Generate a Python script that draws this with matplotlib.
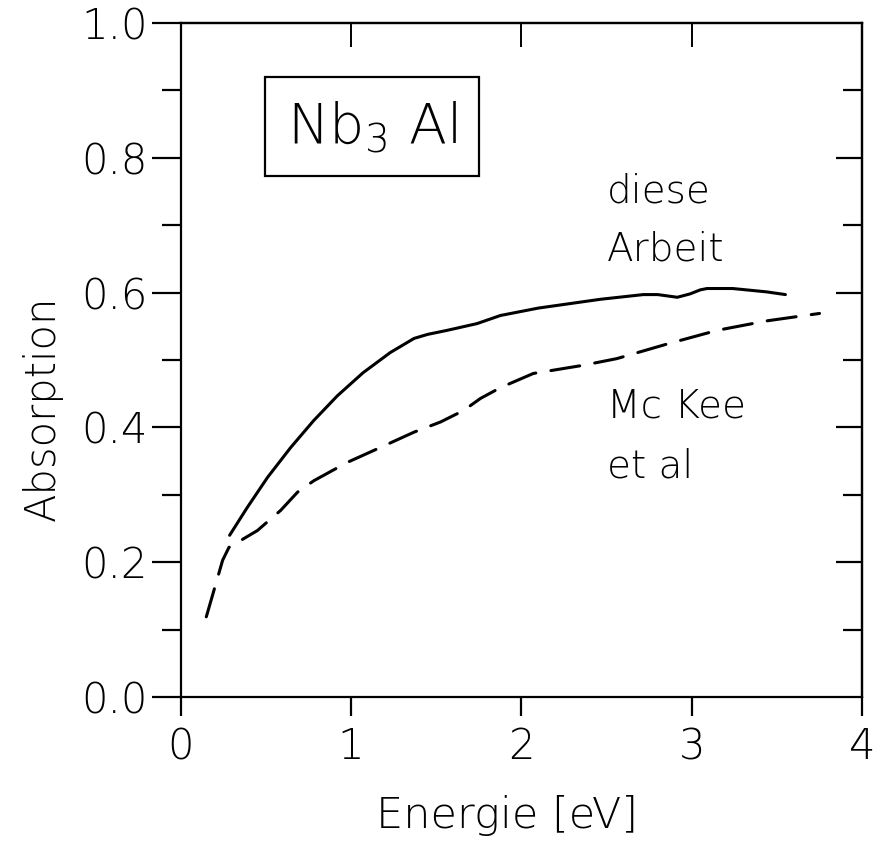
import matplotlib
matplotlib.use("Agg")
import matplotlib.pyplot as plt

plt.rcParams['font.family'] = ['DejaVu Sans']
plt.rcParams['font.weight'] = 'light'
plt.rcParams['axes.labelweight'] = 'light'
plt.rcParams['lines.scale_dashes'] = False

# "diese Arbeit" (solid)
arbeit_e = [0.287, 0.39, 0.51, 0.645, 0.78, 0.92, 1.07, 1.23, 1.37, 1.45, 1.565, 1.74, 1.877,
            2.10, 2.463, 2.716, 2.80, 2.915, 2.99, 3.05, 3.09, 3.24, 3.44, 3.55]
arbeit_a = [0.240, 0.281, 0.326, 0.370, 0.410, 0.447, 0.481, 0.511, 0.532, 0.538, 0.544, 0.554, 0.566,
            0.577, 0.590, 0.597, 0.597, 0.593, 0.598, 0.604, 0.606, 0.606, 0.601, 0.597]

# "Mc Kee et al" (dashed)
mckee_e = [0.15, 0.19, 0.246, 0.283, 0.35, 0.45, 0.587, 0.686, 0.782, 0.977, 1.17, 1.37, 1.525,
           1.66, 1.76, 1.877, 2.07, 2.36, 2.56, 2.86, 3.15, 3.44, 3.75]
mckee_a = [0.119, 0.154, 0.203, 0.222, 0.232, 0.247, 0.277, 0.304, 0.321, 0.348, 0.370, 0.393, 0.408,
           0.425, 0.443, 0.459, 0.480, 0.492, 0.502, 0.524, 0.544, 0.558, 0.569]

x_ticks = [0, 1, 2, 3, 4]
y_major = [0.0, 0.2, 0.4, 0.6, 0.8, 1.0]
y_minor = [0.1, 0.3, 0.5, 0.7, 0.9]

fig = plt.figure(figsize=(8.86, 8.48), dpi=100)
ax = fig.add_axes([0.204, 0.178, 0.769, 0.795])

ax.plot(arbeit_e, arbeit_a, color='black', lw=2.2, solid_capstyle='round', solid_joinstyle='round')
ax.plot(mckee_e, mckee_a, color='black', lw=2.2, dashes=(21, 11), dash_capstyle='round')

ax.set_xlim(0, 4)
ax.set_ylim(0, 1.0)
for s in ax.spines.values():
    s.set_linewidth(1.6)

ax.set_xticks(x_ticks)
ax.set_xticklabels([str(v) for v in x_ticks])
ax.set_yticks(y_major)
ax.set_yticklabels(['%.1f' % v for v in y_major])
ax.set_yticks(y_minor, minor=True)
ax.tick_params(axis='x', direction='out', length=14, width=1.6, labelsize=30, pad=7)
ax.tick_params(axis='y', which='major', direction='out', length=21, width=1.6, labelsize=30, pad=3)
ax.tick_params(axis='y', which='minor', direction='out', length=14, width=1.6)

# top and right ticks point inward
top = ax.secondary_xaxis('top')
top.set_xticks([1, 2, 3])
top.tick_params(direction='in', length=17, width=1.4, labeltop=False)
top.spines['top'].set_linewidth(1.6)
right = ax.secondary_yaxis('right')
right.set_yticks([0.2, 0.4, 0.6, 0.8])
right.set_yticks(y_minor, minor=True)
right.tick_params(which='major', direction='in', length=19, width=1.6, labelright=False)
right.tick_params(which='minor', direction='in', length=14, width=1.6)
right.spines['right'].set_linewidth(1.6)

ax.set_xlabel('Energie [eV]', fontsize=31)
ax.xaxis.set_label_coords(0.479, -0.145)
ax.set_ylabel('Absorption', fontsize=30)
ax.yaxis.set_label_coords(-0.173, 0.428)

ax.text(0.2805, 0.8457, r'Nb$_{3}$ Al', transform=ax.transAxes, fontsize=40,
        ha='center', va='center',
        bbox=dict(boxstyle='square,pad=0.4', facecolor='white', edgecolor='black', lw=1.6))
ax.text(0.6255, 0.733, 'diese', transform=ax.transAxes, fontsize=28, va='baseline')
ax.text(0.6255, 0.648, 'Arbeit', transform=ax.transAxes, fontsize=28, va='baseline')
ax.text(0.6255, 0.415, 'Mc Kee', transform=ax.transAxes, fontsize=28, va='baseline')
ax.text(0.6255, 0.325, 'et al', transform=ax.transAxes, fontsize=28, va='baseline')

fig.savefig('out.png', dpi=100)
